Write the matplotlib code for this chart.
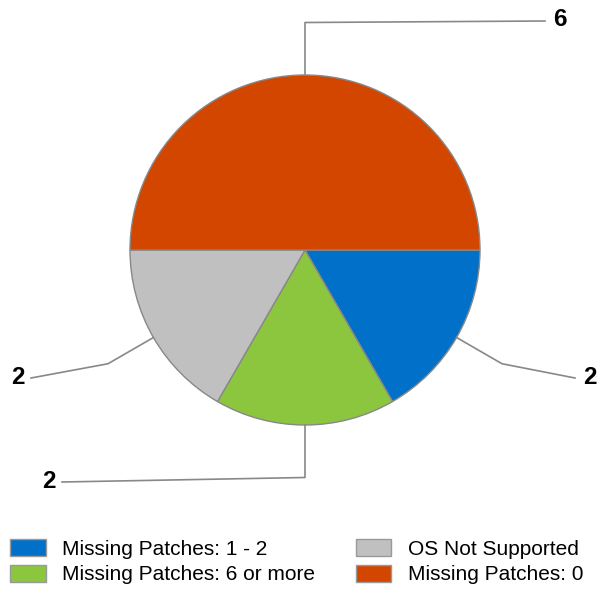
import numpy as np
import matplotlib.pyplot as plt
from matplotlib.patches import Patch

plt.rcParams['font.family'] = ['Liberation Sans', 'DejaVu Sans']

# data
categories = ["Missing Patches: 1 - 2", "Missing Patches: 6 or more",
              "OS Not Supported", "Missing Patches: 0"]
values = [2, 2, 2, 6]
colors = ["#0070C8", "#8CC63F", "#C0C0C0", "#D24600"]

# label end positions (pixel layout, y down)
label_pos = [(590, 378), (49, 482), (18, 378), (560, 20)]
line_end = [(575, 378), (62, 482), (31, 378), (545, 21)]

W, H = 611, 591
fig = plt.figure(figsize=(W / 100, H / 100), dpi=100)
ax = fig.add_axes([0, 0, 1, 1])

cx, cy, r = 305, H - 250, 175
wedges, _ = ax.pie(values, colors=colors, startangle=0, counterclock=False,
                   center=(cx, cy), radius=r, frame=True,
                   wedgeprops=dict(edgecolor='#888888', linewidth=1))
ax.set_xlim(0, W)
ax.set_ylim(0, H)
ax.axis('off')

for w, v, (lx, ly), (ex, ey) in zip(wedges, values, label_pos, line_end):
    mid = np.deg2rad((w.theta1 + w.theta2) / 2)
    p0 = (cx + r * np.cos(mid), cy + r * np.sin(mid))
    p1 = (cx + 1.3 * r * np.cos(mid), cy + 1.3 * r * np.sin(mid))
    ax.plot([p0[0], p1[0], ex], [p0[1], p1[1], H - ey], color='#888888', lw=1.2)
    ax.text(lx, H - ly, str(v), fontsize=17.5, fontweight='bold',
            ha='center', va='center')

handles = [Patch(facecolor=c, edgecolor='#999999') for c in colors]
fig.legend(handles, categories, loc='upper left', bbox_to_anchor=(6 / W, 1 - 535 / H),
           ncol=2, frameon=False, fontsize=15, handlelength=1.7, handleheight=0.85,
           handletextpad=0.8, columnspacing=1.95, labelspacing=0.3, borderpad=0.2,
           borderaxespad=0)

fig.savefig('out.png', dpi=100)
